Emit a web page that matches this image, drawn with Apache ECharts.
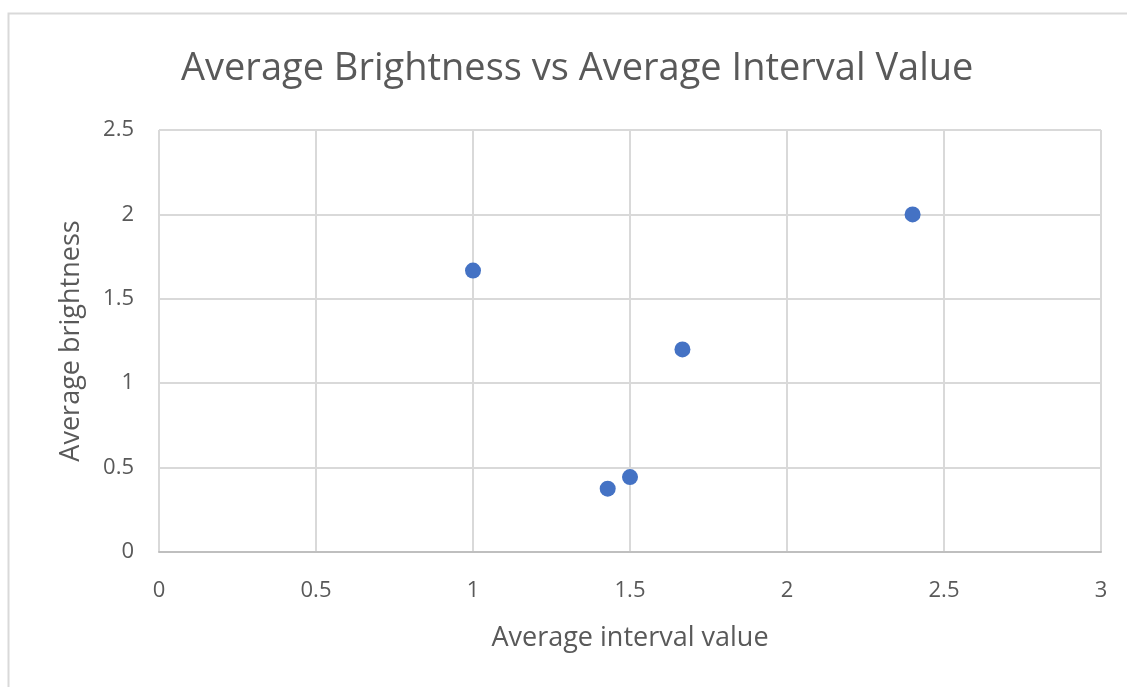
<!DOCTYPE html>
<html>
<head>
<meta charset="utf-8">
<script src="https://cdn.jsdelivr.net/npm/echarts@6/dist/echarts.min.js"></script>
<style>
  html, body { margin: 0; padding: 0; background: #fff; }
  #chart { width: 1127px; height: 687px; }
</style>
</head>
<body>
<div id="chart"></div>
<script>
// Average interval value (x) and average brightness (y) per sample
const intervalValues = [1, 2.4, 1.667, 1.5, 1.429];
const brightnessValues = [1.667, 2, 1.2, 0.444, 0.375];

const xTicks = { min: 0, max: 3, interval: 0.5 };
const yTicks = { min: 0, max: 2.5, interval: 0.5 };

const points = intervalValues.map((x, i) => [x, brightnessValues[i]]);

const font = '"Open Sans", "Noto Sans", sans-serif';
const textColor = '#595959';

const chart = echarts.init(document.getElementById('chart'), null, { renderer: 'canvas' });
chart.setOption({
  backgroundColor: '#ffffff',
  animation: false,
  title: {
    text: 'Average Brightness vs Average Interval Value',
    left: 176,
    top: 45,
    textStyle: { fontFamily: font, fontSize: 38, fontWeight: 'normal', color: textColor }
  },
  graphic: [{
    type: 'rect',
    shape: { x: 8.5, y: 13.5, width: 1130, height: 690 },
    style: { fill: 'none', stroke: '#d9d9d9', lineWidth: 2 },
    silent: true
  }],
  grid: { left: 159, right: 26, top: 130, bottom: 135 },
  xAxis: {
    type: 'value',
    min: xTicks.min, max: xTicks.max, interval: xTicks.interval,
    name: 'Average interval value',
    nameLocation: 'middle',
    nameGap: 73,
    nameTextStyle: { fontFamily: font, fontSize: 27, color: textColor },
    axisLine: { show: true, lineStyle: { color: '#bfbfbf', width: 2 } },
    axisTick: { show: false },
    axisLabel: { fontFamily: font, fontSize: 22, color: textColor, margin: 28 },
    splitLine: { show: true, lineStyle: { color: '#d9d9d9', width: 2 } }
  },
  yAxis: {
    type: 'value',
    min: yTicks.min, max: yTicks.max, interval: yTicks.interval,
    name: 'Average brightness',
    nameLocation: 'middle',
    nameGap: 74,
    nameTextStyle: { fontFamily: font, fontSize: 27, color: textColor },
    axisLine: { show: false },
    axisTick: { show: false },
    axisLabel: { fontFamily: font, fontSize: 22, color: textColor, margin: 25 },
    splitLine: { show: true, lineStyle: { color: '#d9d9d9', width: 2 } }
  },
  series: [{
    type: 'scatter',
    data: points,
    symbol: 'circle',
    symbolSize: 16,
    itemStyle: { color: '#4472c4', opacity: 1 }
  }]
});
</script>
</body>
</html>
